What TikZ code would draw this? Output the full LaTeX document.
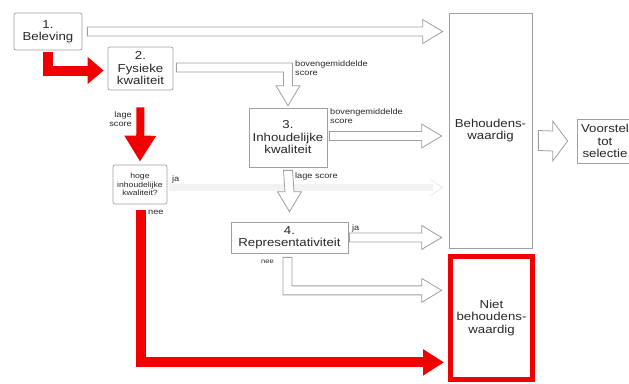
\documentclass[tikz,border=0pt]{standalone}
\usepackage{fontspec}
\setmainfont{Liberation Sans}[FakeStretch=1.15]
\usetikzlibrary{arrows.meta,calc}
\definecolor{lg}{RGB}{160,160,160}
\definecolor{tx}{RGB}{40,40,40}
\definecolor{rd}{RGB}{240,0,0}
\tikzset{
 box/.style={draw=lg, line width=0.7pt, fill=white, align=center, text=tx, font=\fontsize{11.5}{12.5}\selectfont, inner sep=1pt},
 rbox/.style={box, rounded corners=2pt},
 lbl/.style={text=tx, font=\fontsize{8}{8.5}\selectfont, align=left, inner sep=0pt, anchor=north west},
 hollow/.style={draw=lg, line width=0.8pt, line join=miter, fill=white},
 redline/.style={draw=rd, line width=10pt, line join=miter},
 faint/.style={draw=black!5, line width=7pt},
}
% straight right arrow: start, tip (same y)
\newcommand{\hArrowR}[2]{\draw[hollow] ($(#1)+(0,-4.5)$) -- ($(#2)+(-20,-4.5)$) -- ($(#2)+(-20,-12)$) -- (#2) -- ($(#2)+(-20,12)$) -- ($(#2)+(-20,4.5)$) -- ($(#1)+(0,4.5)$) -- cycle;}
% straight down arrow: start, tip (same x)
\newcommand{\hArrowD}[2]{\draw[hollow] ($(#1)+(-4.5,0)$) -- ($(#2)+(-4.5,-20)$) -- ($(#2)+(-12,-20)$) -- (#2) -- ($(#2)+(12,-20)$) -- ($(#2)+(4.5,-20)$) -- ($(#1)+(4.5,0)$) -- cycle;}
% right then down: start, corner, tip
\newcommand{\hArrowRD}[3]{\draw[hollow] ($(#1)+(0,-4.5)$) -- ($(#2)+(4.5,-4.5)$) -- ($(#3)+(4.5,-20)$) -- ($(#3)+(12,-20)$) -- (#3) -- ($(#3)+(-12,-20)$) -- ($(#3)+(-4.5,-20)$) -- ($(#2)+(-4.5,4.5)$) -- ($(#1)+(0,4.5)$) -- cycle;}
% down then right: start, corner, tip
\newcommand{\hArrowDR}[3]{\draw[hollow] ($(#1)+(-4.5,0)$) -- ($(#2)+(-4.5,4.5)$) -- ($(#3)+(-20,4.5)$) -- ($(#3)+(-20,12)$) -- (#3) -- ($(#3)+(-20,-12)$) -- ($(#3)+(-20,-4.5)$) -- ($(#2)+(4.5,-4.5)$) -- ($(#1)+(4.5,0)$) -- cycle;}
\begin{document}
\begin{tikzpicture}[x=1pt,y=-1pt]
\useasboundingbox (0,0) rectangle (629,383);
% nodes
\node[rbox, minimum width=68pt, minimum height=37pt] (b1) at (48,31.5) {1.\\Beleving};
\node[rbox, minimum width=65pt, minimum height=43pt] (b2) at (140.5,68.5) {2.\\Fysieke\\kwaliteit};
\node[box, minimum width=78pt, minimum height=59pt] (b3) at (288,137.5) {3.\\Inhoudelijke\\kwaliteit};
\node[box, minimum width=117pt, minimum height=31pt] (b4) at (289.5,237.5) {4.\\Representativiteit};
\node[rbox, font=\fontsize{7.5}{8.5}\selectfont, minimum width=54pt, minimum height=39pt, inner sep=0pt] (hq) at (140,184.5) {hoge\\inhoudelijke\\kwaliteit?};
\node[box, minimum width=83pt, minimum height=235pt] (bw) at (490.5,130.5) {Behoudens-\\waardig};
\node[box, draw=rd, line width=5pt, minimum width=82pt, minimum height=123pt] (nb) at (491.5,318) {Niet\\behoudens-\\waardig};
\node[box, minimum width=56pt, minimum height=44pt] (vs) at (605,141) {Voorstel\\tot\\selectie};

% faint arrow (ja)
\coordinate (s5) at ($(hq.east)+(2,3)$);
\coordinate (t5) at ($(bw.west |- s5)+(-6,0)$);
\draw[faint] (s5) -- ($(t5)+(-10,0)$);
\draw[draw=black!10, line width=0.6pt] ($(t5)+(-12,-8)$) -- (t5) -- ($(t5)+(-12,8)$);
\node[lbl] (l5) at (172,176) {ja};

% arrow 1
\coordinate (s1) at ($(b1.east)+(5,0)$);
\coordinate (t1) at ($(bw.west |- b1.east)+(-6,0)$);
\hArrowR{s1}{t1}

% arrow 2
\coordinate (s2) at ($(b2.east)+(3,-1)$);
\coordinate (c2) at (b3.north |- s2);
\coordinate (t2) at ($(b3.north)+(0,-2)$);
\hArrowRD{s2}{c2}{t2}
\node[lbl] (l2) at (295,61) {bovengemiddelde\\score};

% arrow 3
\coordinate (s3) at ($(b3.east)+(2,-1.5)$);
\coordinate (t3) at ($(bw.west |- s3)+(-7,0)$);
\hArrowR{s3}{t3}
\node[lbl] (l3) at (330,109) {bovengemiddelde\\score};

% arrow 4
\coordinate (s4) at ($(b3.south)+(0,3)$);
\coordinate (t4) at ($(b4.north)+(0,-10)$);
\hArrowD{s4}{t4}
\node[lbl] (l4) at (295,172) {lage score};

% arrow 6
\coordinate (s6) at ($(b4.east)+(1,0)$);
\coordinate (t6) at ($(bw.west |- s6)+(-7,0)$);
\hArrowR{s6}{t6}
\node[lbl] (l6) at (352,224) {ja};

% arrow 7
\coordinate (s7) at ($(b4.south)+(-2,4)$);
\coordinate (c7) at ($(s7)+(0,33)$);
\coordinate (t7) at ($(bw.west |- c7)+(-7,0)$);
\hArrowDR{s7}{c7}{t7}
\node[lbl, font=\fontsize{6.5}{7}\selectfont] (l7) at (261,260) {nee};

% arrow 8 (wide)
\coordinate (s8) at ($(bw.east)+(6,10)$);
\coordinate (t8) at ($(vs.west)+(-9,0)$);
\draw[hollow] ($(s8)+(0,-10)$) -- ($(t8)+(-15,-10)$) -- ($(t8)+(-15,-20)$) -- (t8) -- ($(t8)+(-15,20)$) -- ($(t8)+(-15,10)$) -- ($(s8)+(0,10)$) -- cycle;

% red arrows
\draw[redline, -{Triangle[length=16pt,width=26pt]}] ($(b1.south)+(0,2)$) -- ($(b1.south |- b2.west)+(0,2)$) -- ($(b2.west)+(-4,2)$);
\draw[redline, line width=8pt, -{Triangle[length=26pt,width=30pt]}] ($(b2.south)+(0,17)$) -- ($(hq.north)+(0,-3)$);
\node[lbl, anchor=north east, align=right] (l8) at (132,112) {lage\\score};
\coordinate (r3) at ($(hq.south)+(1,6)$);
\coordinate (c9) at ($(hq.south)+(1,158)$);
\draw[redline, -{Triangle[length=21pt,width=25pt]}] (r3) -- (c9) -- ($(nb.west |- c9)+(-4,0)$);
\node[lbl] (l9) at (148,210) {nee};
\end{tikzpicture}
\end{document}
